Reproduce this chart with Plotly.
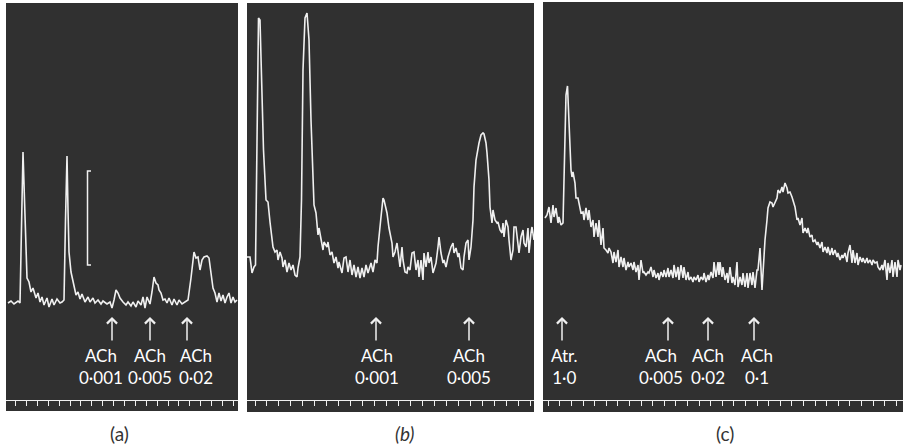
import plotly.graph_objects as go

# ---------------- data ----------------
# Panel (a): time (arbitrary units) and trace amplitude
A_TIME = [8, 11, 14, 18, 20, 21.5, 23, 24.5, 26, 27,
          29, 31, 33, 36, 38, 40, 42, 44, 47, 49,
          52, 54, 57, 60, 62, 64, 65.5, 67, 68, 69,
          71, 73, 74, 76, 78, 80, 82, 85, 88, 90,
          93, 95, 98, 101, 103, 107, 110, 112, 114, 116,
          118, 120, 123, 126, 128, 131, 133, 136, 138, 141,
          143, 145, 147, 150, 152, 154, 156, 158, 159, 161,
          163, 165, 167, 169, 172, 174, 177, 179, 182, 185,
          188, 191, 193, 194, 196, 198, 200, 202, 204, 207,
          209, 211, 213, 215, 217, 219, 221, 223, 225, 227,
          229, 231, 233, 235, 237]
A_AMP = [109, 111, 108, 111, 109, 182, 260, 212, 150, 134,
         130, 120, 124, 114, 119, 110, 115, 107, 114, 105,
         113, 107, 113, 109, 110, 112, 192, 256, 202, 160,
         140, 130, 125, 117, 120, 113, 118, 110, 115, 110,
         114, 109, 112, 108, 111, 108, 110, 104, 112, 122,
         119, 114, 110, 107, 110, 106, 110, 105, 111, 107,
         115, 104, 115, 108, 120, 135, 129, 127, 122, 119,
         112, 113, 109, 114, 107, 113, 107, 112, 108, 110,
         112, 134, 157, 160, 154, 155, 142, 152, 155, 156,
         154, 137, 124, 119, 110, 119, 111, 117, 109, 115,
         119, 109, 115, 110, 112]

B_TIME = [247, 250, 252, 254, 255.5, 257, 258.5, 260, 262, 263.5,
          266, 268, 270, 271, 273, 275, 277, 278, 280, 282,
          283, 285, 287, 289, 291, 293, 295, 297, 298, 300,
          301.5, 303, 305, 307, 309, 311, 313, 314, 316, 318,
          319, 321, 323, 324, 327, 328, 330, 332, 334, 336,
          338, 339, 342, 344, 346, 348, 350, 352, 354, 356,
          358, 360, 362, 364, 366, 368, 371, 373, 375, 377,
          378, 381, 383, 384, 387, 389, 390, 392, 393, 395,
          397, 398, 400, 402, 403, 405, 407, 408, 410, 412,
          414, 416, 418, 419, 421, 423, 424, 426, 428, 429,
          431, 433, 434, 436, 438, 439, 441, 443, 444, 446,
          448, 449, 451, 453, 454, 456, 458, 459, 461, 463,
          464, 466, 468, 469, 471, 473, 474, 476, 478, 479,
          481, 483, 484, 486, 487, 489, 490, 492, 493, 495,
          497, 498, 500, 502, 503, 504, 506, 508, 509, 511,
          513, 514, 516, 518, 519, 521, 523, 524, 526, 528,
          529, 531, 532, 534]
B_AMP = [155, 155, 139, 145, 147, 282, 394, 392, 322, 262,
         212, 210, 190, 180, 165, 160, 162, 152, 160, 154,
         145, 152, 140, 149, 142, 147, 137, 135, 144, 155,
         212, 342, 394, 399, 372, 292, 222, 207, 199, 177,
         184, 174, 162, 170, 165, 170, 157, 160, 149, 155,
         144, 150, 139, 154, 155, 140, 152, 137, 147, 135,
         145, 134, 144, 135, 147, 139, 149, 140, 152, 149,
         165, 195, 214, 212, 199, 184, 179, 169, 155, 160,
         169, 162, 145, 165, 152, 140, 139, 145, 142, 159,
         160, 142, 152, 135, 152, 132, 159, 145, 160, 149,
         155, 139, 142, 149, 165, 175, 159, 149, 152, 145,
         155, 159, 165, 169, 159, 164, 155, 159, 144, 142,
         155, 169, 172, 152, 165, 192, 225, 252, 265, 269,
         277, 279, 278, 269, 259, 232, 205, 189, 202, 192,
         189, 190, 182, 179, 189, 175, 192, 185, 172, 152,
         162, 185, 185, 165, 159, 175, 182, 169, 165, 184,
         159, 179, 185, 172]

C_TIME = [545, 547, 549, 551, 553, 554, 556, 558, 559, 561,
          563, 564.5, 566, 567.5, 569, 571, 572, 573, 575, 576,
          578, 579, 581, 583, 584, 586, 588, 589, 591, 593,
          594, 596, 598, 599, 601, 603, 604, 606, 608, 609,
          611, 613, 614, 616, 618, 619, 621, 623, 624, 626,
          628, 629, 631, 633, 634, 636, 638, 639, 641, 643,
          644, 646, 648, 649, 651, 653, 654, 656, 658, 659,
          661, 663, 664, 666, 668, 669, 671, 673, 674, 676,
          678, 679, 681, 683, 684, 686, 688, 689, 691, 693,
          694, 696, 698, 699, 701, 703, 704, 706, 708, 709,
          711, 713, 714, 716, 718, 719, 720, 722, 723, 725,
          727, 728, 730, 732, 733, 735, 737, 738, 740, 742,
          743, 745, 747, 748, 750, 752, 753, 755, 757, 758,
          760, 762, 763, 765, 767, 768, 770, 772, 773, 775,
          777, 778, 780, 782, 783, 785, 787, 788, 790, 792,
          793, 795, 797, 798, 800, 802, 803, 805, 807, 808,
          810, 812, 813, 815, 817, 818, 820, 822, 823, 825,
          827, 828, 830, 832, 833, 835, 837, 838, 840, 842,
          843, 845, 847, 848, 850, 852, 853, 855, 857, 858,
          860, 862, 863, 865, 867, 868, 870, 872, 873, 875,
          877, 878, 880, 882, 883, 885, 887, 888, 890, 892,
          893, 895, 897, 898, 900, 901]
C_AMP = [194, 197, 205, 189, 207, 195, 204, 189, 195, 187,
         189, 262, 317, 326, 282, 242, 235, 240, 229, 214,
         214, 209, 199, 200, 192, 204, 192, 202, 185, 192,
         175, 189, 175, 192, 167, 184, 164, 162, 159, 164,
         160, 149, 160, 150, 162, 145, 155, 145, 154, 142,
         150, 145, 149, 142, 150, 140, 147, 132, 152, 139,
         140, 137, 140, 139, 145, 135, 142, 134, 139, 132,
         140, 135, 142, 135, 144, 135, 142, 134, 147, 135,
         145, 132, 147, 134, 145, 132, 140, 132, 135, 130,
         135, 132, 137, 130, 135, 132, 139, 130, 137, 132,
         140, 134, 150, 135, 150, 137, 150, 135, 145, 132,
         139, 129, 145, 129, 135, 127, 150, 125, 135, 127,
         139, 125, 139, 124, 139, 127, 140, 124, 142, 142,
         164, 122, 142, 172, 192, 204, 210, 209, 205, 210,
         214, 222, 219, 225, 220, 229, 224, 219, 220, 215,
         212, 205, 192, 194, 187, 194, 179, 184, 179, 184,
         175, 177, 170, 172, 167, 170, 164, 170, 160, 165,
         159, 165, 157, 164, 157, 162, 155, 159, 152, 157,
         154, 159, 150, 159, 167, 149, 162, 149, 159, 147,
         155, 150, 154, 149, 154, 149, 152, 147, 152, 149,
         150, 145, 142, 147, 142, 152, 132, 149, 139, 152,
         135, 150, 135, 152, 142, 147]

# drug additions: times of arrows and their labels
A_DOSE_TIME = [112, 150, 187]
A_LABEL_TIME = [101, 150, 196]
A_LABELS = ["ACh<br>0·001", "ACh<br>0·005", "ACh<br>0·02"]
B_DOSE_TIME = [376, 469]
B_LABEL_TIME = [377, 469]
B_LABELS = ["ACh<br>0·001", "ACh<br>0·005"]
C_DOSE_TIME = [562, 668, 708, 754]
C_LABEL_TIME = [564, 661, 708, 757]
C_LABELS = ["Atr.<br>1·0", "ACh<br>0·005", "ACh<br>0·02", "ACh<br>0·1"]

PANEL_NAMES = ["(a)", "<i>(b)</i>", "(c)"]

# calibration bar in panel (a)
CAL_TIME = 87.5
CAL_TOP = 241
CAL_BOTTOM = 147

# ---------------- layout / styling ----------------
W, H = 909, 446
BG = "#303030"
TRACE = "#f0f0f0"
FONT = "Lato"


def fx(v):
    return v / W


def fy(v):
    return 1 - v / H


panels = [
    dict(t=A_TIME, y=A_AMP, left=6, right=238, top=4, bottom=411, tick0=15.7, dtick=10.88,
         dose=A_DOSE_TIME, lt=A_LABEL_TIME, lab=A_LABELS, cx=120),
    dict(t=B_TIME, y=B_AMP, left=247, right=534, top=3, bottom=412, tick0=255, dtick=11.96,
         dose=B_DOSE_TIME, lt=B_LABEL_TIME, lab=B_LABELS, cx=404),
    dict(t=C_TIME, y=C_AMP, left=543, right=903, top=2, bottom=412, tick0=548.3, dtick=11.6,
         dose=C_DOSE_TIME, lt=C_LABEL_TIME, lab=C_LABELS, cx=725),
]

fig = go.Figure()
layout = dict(
    width=W, height=H, margin=dict(l=0, r=0, t=0, b=0),
    paper_bgcolor="white", plot_bgcolor=BG, showlegend=False,
    shapes=[], annotations=[],
)

AX_TOP_PX, AX_BOT_PX = 3, 400
Y_RANGE = [12, 409]
ARROW_HEAD = 95
LABEL_Y = 45.5

for i, p in enumerate(panels):
    s = "" if i == 0 else str(i + 1)
    xa, ya = "x" + s, "y" + s
    fig.add_trace(go.Scatter(x=p["t"], y=p["y"], xaxis=xa, yaxis=ya, mode="lines",
                             line=dict(color=TRACE, width=1.6), hoverinfo="skip"))
    layout["xaxis" + s] = dict(
        domain=[fx(p["left"]), fx(p["right"])], range=[p["left"], p["right"]], anchor=ya,
        showline=True, linecolor=TRACE, linewidth=1.3, ticks="outside", ticklen=5,
        tickwidth=1.3, tickcolor=TRACE, tick0=p["tick0"], dtick=p["dtick"],
        showticklabels=False, showgrid=False, zeroline=False, fixedrange=True)
    layout["yaxis" + s] = dict(
        domain=[fy(AX_BOT_PX), fy(AX_TOP_PX)], range=Y_RANGE, anchor=xa, visible=False,
        fixedrange=True)
    layout["shapes"].append(dict(
        type="rect", xref="paper", yref="paper", x0=fx(p["left"]), x1=fx(p["right"]),
        y0=fy(p["bottom"]), y1=fy(p["top"]), fillcolor=BG, line=dict(width=0), layer="below"))
    for t in p["dose"]:
        layout["annotations"].append(dict(
            x=t, y=ARROW_HEAD, xref=xa, yref=ya, text="", showarrow=True, ax=0, ay=25,
            arrowhead=4, arrowsize=1.3, arrowwidth=1.5, arrowcolor=TRACE, standoff=0))
    for t, lab in zip(p["lt"], p["lab"]):
        layout["annotations"].append(dict(
            x=t, y=LABEL_Y, xref=xa, yref=ya, text=lab, showarrow=False,
            xanchor="center", yanchor="middle", align="center",
            font=dict(family=FONT, size=17, color="white")))
    layout["annotations"].append(dict(
        x=fx(p["cx"]), y=fy(433), xref="paper", yref="paper", text=PANEL_NAMES[i],
        showarrow=False, xanchor="center", yanchor="middle",
        font=dict(family=FONT, size=19, color="#333333")))

# calibration bar
fig.add_trace(go.Scatter(x=[CAL_TIME + 3.5, CAL_TIME, CAL_TIME, CAL_TIME + 3.5],
                         y=[CAL_TOP, CAL_TOP, CAL_BOTTOM, CAL_BOTTOM],
                         xaxis="x", yaxis="y", mode="lines",
                         line=dict(color=TRACE, width=1.5), hoverinfo="skip"))

fig.update_layout(**layout)
fig.write_html("out.html", config={"displayModeBar": False},
               post_script="document.body.style.margin='0';document.body.style.padding='0';"
                           "document.body.style.overflow='hidden';")
